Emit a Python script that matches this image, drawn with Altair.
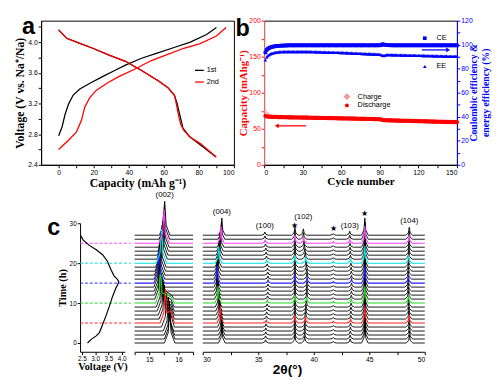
import altair as alt
import pandas as pd

SERIF = "Liberation Serif"
SANS = "Liberation Sans"

# ---------------- panel a : voltage profiles ----------------
A_1ST_CH_CAP = [0, 1.9, 3.7, 5.6, 8.3, 12.1, 17.6, 25.0, 32.0, 38.1, 47.3, 56.6, 65.9, 75.1, 84.4, 90.0]
A_1ST_CH_V = [2.78, 2.89, 3.06, 3.19, 3.31, 3.39, 3.46, 3.55, 3.63, 3.70, 3.79, 3.86, 3.93, 4.00, 4.10, 4.19]
A_1ST_DIS_CAP = [0, 4.6, 10.2, 19.5, 28.8, 38.1, 47.3, 56.6, 62.2, 66.0, 67.6, 69.1, 70.9, 74.6, 80.2, 89.4]
A_1ST_DIS_V = [4.16, 4.05, 4.00, 3.92, 3.83, 3.75, 3.63, 3.50, 3.41, 3.31, 3.20, 3.05, 2.88, 2.77, 2.67, 2.51]
A_2ND_CH_CAP = [0, 5.6, 10.2, 13.0, 14.9, 17.6, 21.4, 28.0, 34.3, 43.6, 52.9, 62.2, 71.4, 80.7, 90.0, 95.5]
A_2ND_CH_V = [2.60, 2.72, 2.83, 2.98, 3.15, 3.27, 3.37, 3.47, 3.55, 3.65, 3.76, 3.84, 3.92, 3.98, 4.08, 4.19]
A_2ND_DIS_CAP = [0, 4.6, 10.2, 19.5, 28.8, 38.1, 47.3, 56.6, 62.2, 66.2, 68.1, 69.6, 71.4, 75.1, 80.7, 90.0]
A_2ND_DIS_V = [4.16, 4.05, 4.00, 3.92, 3.83, 3.75, 3.63, 3.50, 3.41, 3.30, 3.08, 2.93, 2.85, 2.76, 2.68, 2.50]
A_LEGEND = ["1st", "2nd"]

# ---------------- panel b : cycling ----------------
CYCLES = list(range(1, 151))
DISCHARGE = [
    67.8, 67.2, 66.9, 66.7, 66.6, 66.5, 66.4, 66.4, 66.3, 66.3,
    66.2, 66.2, 66.1, 66.1, 66.0, 66.0, 66.0, 65.9, 65.9, 65.8,
    65.8, 65.8, 65.7, 65.7, 65.7, 65.6, 65.6, 65.6, 65.5, 65.5,
    65.5, 65.4, 65.4, 65.4, 65.3, 65.3, 65.3, 65.2, 65.2, 65.2,
    65.1, 65.1, 65.0, 65.0, 65.0, 64.9, 64.9, 64.9, 64.8, 64.8,
    64.8, 64.7, 64.7, 64.6, 64.6, 64.6, 64.5, 64.5, 64.5, 64.4,
    64.4, 64.3, 64.3, 64.3, 64.2, 64.2, 64.1, 64.1, 64.1, 64.0,
    64.0, 63.9, 63.9, 63.9, 63.8, 63.8, 63.7, 63.7, 63.7, 63.6,
    63.6, 63.5, 63.5, 63.5, 63.4, 63.4, 63.3, 63.3, 63.2, 63.2,
    62.8, 62.2, 61.9, 61.8, 61.8, 61.7, 61.7, 61.6, 61.6, 61.5,
    61.5, 61.4, 61.4, 61.3, 61.3, 61.2, 61.2, 61.1, 61.1, 61.0,
    61.0, 60.9, 60.9, 60.8, 60.8, 60.7, 60.7, 60.6, 60.6, 60.5,
    60.5, 60.4, 60.4, 60.3, 60.3, 60.2, 60.2, 60.1, 60.1, 60.0,
    60.0, 59.9, 59.9, 59.8, 59.8, 59.7, 59.7, 59.6, 59.6, 59.5,
    59.5, 59.4, 59.4, 59.4, 59.3, 59.3, 59.3, 59.2, 59.2, 59.2]
CHARGE = [
    73.5, 70.5, 69.0, 68.2, 67.6, 67.2, 66.9, 66.8, 66.6, 66.5,
    66.4, 66.4, 66.3, 66.3, 66.2, 66.2, 66.2, 66.1, 66.1, 66.0,
    66.0, 66.0, 65.9, 65.9, 65.9, 65.8, 65.8, 65.8, 65.7, 65.7,
    65.7, 65.6, 65.6, 65.6, 65.5, 65.5, 65.5, 65.4, 65.4, 65.4,
    65.3, 65.3, 65.2, 65.2, 65.2, 65.1, 65.1, 65.1, 65.0, 65.0,
    65.0, 64.9, 64.9, 64.8, 64.8, 64.8, 64.7, 64.7, 64.7, 64.6,
    64.6, 64.5, 64.5, 64.5, 64.4, 64.4, 64.3, 64.3, 64.3, 64.2,
    64.2, 64.1, 64.1, 64.1, 64.0, 64.0, 63.9, 63.9, 63.9, 63.8,
    63.8, 63.7, 63.7, 63.7, 63.6, 63.6, 63.5, 63.5, 63.4, 63.4,
    63.0, 62.4, 62.1, 62.0, 62.0, 61.9, 61.9, 61.8, 61.8, 61.7,
    61.7, 61.6, 61.6, 61.5, 61.5, 61.4, 61.4, 61.3, 61.3, 61.2,
    61.2, 61.1, 61.1, 61.0, 61.0, 60.9, 60.9, 60.8, 60.8, 60.7,
    60.7, 60.6, 60.6, 60.5, 60.5, 60.4, 60.4, 60.3, 60.3, 60.2,
    60.2, 60.1, 60.1, 60.0, 60.0, 59.9, 59.9, 59.8, 59.8, 59.7,
    59.7, 59.6, 59.6, 59.6, 59.5, 59.5, 59.5, 59.4, 59.4, 59.4]
CE = [
    93.5, 95.6, 96.7, 97.3, 97.8, 98.1, 98.4, 98.6, 98.8, 98.9,
    99.0, 99.1, 99.2, 99.2, 99.3, 99.3, 99.4, 99.4, 99.4, 99.5,
    99.5, 99.4, 99.5, 99.5, 99.4, 99.5, 99.5, 99.5, 99.4, 99.5,
    99.5, 99.5, 99.4, 99.5, 99.5, 99.5, 99.5, 99.4, 99.5, 99.5,
    99.5, 99.4, 99.5, 99.5, 99.5, 99.5, 99.4, 99.5, 99.5, 99.5,
    99.4, 99.5, 99.5, 99.5, 99.5, 99.4, 99.5, 99.5, 99.5, 99.5,
    99.4, 99.5, 99.5, 99.5, 99.5, 99.4, 99.5, 99.5, 99.5, 99.5,
    99.4, 99.5, 99.5, 99.5, 99.5, 99.4, 99.5, 99.5, 99.5, 99.5,
    99.4, 99.5, 99.5, 99.5, 99.5, 99.4, 99.5, 99.5, 99.5, 99.5,
    99.7, 100.4, 100.2, 99.9, 99.7, 99.6, 99.6, 99.5, 99.5, 99.5,
    99.5, 99.4, 99.5, 99.5, 99.5, 99.4, 99.5, 99.5, 99.5, 99.4,
    99.5, 99.5, 99.5, 99.4, 99.5, 99.5, 99.5, 99.4, 99.5, 99.5,
    99.5, 99.4, 99.5, 99.5, 99.5, 99.4, 99.5, 99.5, 99.5, 99.4,
    99.5, 99.5, 99.5, 99.4, 99.5, 99.5, 99.5, 99.4, 99.5, 99.5,
    99.5, 99.4, 99.5, 99.5, 99.5, 99.4, 99.5, 99.5, 99.5, 99.4]
EE = [
    87.3, 89.6, 90.9, 91.7, 92.3, 92.8, 93.1, 93.4, 93.6, 93.8,
    93.9, 94.0, 94.1, 94.1, 94.2, 94.2, 94.3, 94.3, 94.3, 94.3,
    94.3, 94.3, 94.3, 94.3, 94.3, 94.3, 94.3, 94.3, 94.3, 94.3,
    94.2, 94.2, 94.2, 94.2, 94.2, 94.1, 94.1, 94.1, 94.1, 94.0,
    94.0, 94.0, 93.9, 93.9, 93.9, 93.8, 93.8, 93.8, 93.7, 93.7,
    93.7, 93.6, 93.6, 93.6, 93.5, 93.5, 93.5, 93.5, 93.4, 93.4,
    93.4, 93.3, 93.3, 93.2, 93.2, 93.1, 93.1, 93.0, 93.0, 92.9,
    92.9, 92.8, 92.8, 92.7, 92.7, 92.6, 92.6, 92.5, 92.5, 92.4,
    92.4, 92.3, 92.3, 92.2, 92.2, 92.1, 92.1, 92.0, 92.0, 91.9,
    91.6, 91.0, 90.9, 91.2, 91.5, 91.6, 91.6, 91.6, 91.5, 91.5,
    91.5, 91.5, 91.4, 91.4, 91.4, 91.4, 91.3, 91.3, 91.3, 91.3,
    91.2, 91.2, 91.2, 91.2, 91.1, 91.1, 91.1, 91.1, 91.0, 91.0,
    91.0, 91.0, 90.9, 90.9, 90.9, 90.9, 90.8, 90.8, 90.8, 90.8,
    90.7, 90.7, 90.7, 90.7, 90.6, 90.6, 90.6, 90.6, 90.5, 90.5,
    90.5, 90.5, 90.4, 90.4, 90.4, 90.4, 90.3, 90.3, 90.3, 90.3]

# ---------------- panel c : in-situ XRD ----------------
VOLT_V = [2.71, 2.86, 3.04, 3.16, 3.28, 3.40, 3.53, 3.65, 3.77, 3.86, 3.89, 3.83,
          3.71, 3.59, 3.46, 3.28, 3.04, 2.79, 2.55, 2.46]
VOLT_T = [0.0, 0.98, 1.78, 2.61, 4.63, 6.66, 9.10, 11.54, 13.59, 14.80, 15.37, 16.02,
          16.83, 18.46, 20.49, 22.12, 23.34, 24.39, 25.78, 26.83]
MARK_T = [5, 10, 15, 20, 25]
XRD_T = list(range(28))
P002 = [15.70, 15.70, 15.69, 15.66, 15.60, 15.55, 15.52, 15.49, 15.45, 15.42, 15.39, 15.37,
        15.36, 15.35, 15.34, 15.34, 15.35, 15.36, 15.38, 15.40, 15.42, 15.44, 15.46, 15.48,
        15.50, 15.51, 15.52, 15.53]
SH002 = [0, 0, 0, 0, 3.2, 3.0, 2.8, 2.6, 2.3, 2.0, 1.6, 1.2, 0, 0, 0, 0, 0, 0, 0, 0,
         0, 0, 0, 0, 0, 0, 0, 0]
P004 = [31.72, 31.72, 31.71, 31.68, 31.63, 31.58, 31.54, 31.50, 31.46, 31.42, 31.38, 31.36,
        31.33, 31.31, 31.30, 31.29, 31.30, 31.33, 31.36, 31.40, 31.43, 31.47, 31.51, 31.55,
        31.60, 31.64, 31.68, 31.72]
P100 = [35.66, 35.66, 35.67, 35.68, 35.70, 35.72, 35.74, 35.76, 35.78, 35.80, 35.82, 35.84,
        35.85, 35.86, 35.87, 35.88, 35.87, 35.85, 35.83, 35.80, 35.77, 35.74, 35.71, 35.68,
        35.65, 35.62, 35.60, 35.59]
P102 = [39.18, 39.18, 39.19, 39.20, 39.22, 39.24, 39.26, 39.28, 39.30, 39.33, 39.35, 39.37,
        39.38, 39.39, 39.40, 39.40, 39.39, 39.37, 39.34, 39.31, 39.27, 39.23, 39.19, 39.15,
        39.12, 39.09, 39.07, 39.06]
P103 = [43.28, 43.28, 43.29, 43.30, 43.31, 43.32, 43.33, 43.34, 43.35, 43.36, 43.37, 43.38,
        43.39, 43.40, 43.40, 43.40, 43.39, 43.38, 43.36, 43.34, 43.32, 43.30, 43.28, 43.27,
        43.26, 43.25, 43.24, 43.24]
P104 = [48.62, 48.62, 48.61, 48.60, 48.59, 48.58, 48.57, 48.56, 48.55, 48.54, 48.53, 48.52,
        48.52, 48.51, 48.51, 48.51, 48.51, 48.52, 48.53, 48.54, 48.55, 48.56, 48.57, 48.58,
        48.58, 48.59, 48.59, 48.60]
STAR_POS = [38.30, 41.75, 44.60]
H002, SH002_POS = 8.5, 15.74
MAIN_PEAK_LABELS = ["(004)", "(100)", "★", "(102)", "★", "(103)", "★", "(104)"]
MAIN_PEAK_H = [4.3, 0.8, 2.0, 1.6, 0.4, 1.0, 4.3, 2.0]
XRD002_TICKS = [14.5, 15, 15.5, 16, 16.5]
XRD002_LABELED = ["15.0", "16.0"]
XRDMAIN_TICKS = [30, 32.5, 35, 37.5, 40, 42.5, 45, 47.5, 50]
XRDMAIN_LABELED = ["30.0", "35.0", "40.0", "45.0", "50.0"]

# ---------------- styles ----------------
MARK_COLORS = ["#ff2020", "#20d820", "#2020ff", "#00e0e0", "#ff40ff"]
LABEL_GAP = [0.3, 0.2, -0.8, 1.7, -0.2, 0.2, -0.3, 0.3]   # label lift above the top peak
RED, BLUE, PINK = "#ff0000", "#0000ff", "#ff8a8a"
one = pd.DataFrame({"k": [0]})


def ax(**kw):
    base = dict(labelFont=SANS, labelFontSize=7, labelColor="black", titleFont=SERIF,
                titleFontWeight="bold", titleColor="black", tickColor="black",
                domainColor="black", tickSize=3, grid=False, labelPadding=1,
                labelOverlap=False)
    base.update(kw)
    return alt.Axis(**base)


def txt(x, y, s, size=7.5, align="left", color="black", font=SANS, weight="normal",
        baseline="middle", angle=0):
    return alt.Chart(one).mark_text(text=s, align=align, baseline=baseline, fontSize=size,
                                    font=font, fontWeight=weight, color=color,
                                    angle=angle).encode(x=alt.value(x), y=alt.value(y))


def hline(x0, x1, y, color, w=1.3):
    return alt.Chart(one).mark_rule(color=color, strokeWidth=w).encode(
        x=alt.value(x0), x2=alt.value(x1), y=alt.value(y))


def pt(x, y, shape, color, size, filled=True):
    return alt.Chart(one).mark_point(shape=shape, filled=filled, color=color, size=size,
                                     opacity=1).encode(x=alt.value(x), y=alt.value(y))


# ================= panel a =================
rows = []
for name, seg, caps, vs in [("1st", "c", A_1ST_CH_CAP, A_1ST_CH_V),
                            ("1st", "d", A_1ST_DIS_CAP, A_1ST_DIS_V),
                            ("2nd", "c", A_2ND_CH_CAP, A_2ND_CH_V),
                            ("2nd", "d", A_2ND_DIS_CAP, A_2ND_DIS_V)]:
    for i, (c, v) in enumerate(zip(caps, vs)):
        rows.append({"cycle": name, "seg": name + seg, "i": i, "cap": c, "v": v})
dfa = pd.DataFrame(rows)

xa = alt.X("cap:Q", scale=alt.Scale(domain=[-10, 100], nice=False, zero=False),
           axis=ax(title="Capacity (mAh g⁻¹)", values=list(range(0, 101, 10)),
                   labelExpr="datum.value % 20 == 0 ? datum.label : ''",
                   titleFontSize=12, titlePadding=2))
ya = alt.Y("v:Q", scale=alt.Scale(domain=[2.4, 4.28], nice=False, zero=False),
           axis=ax(title="Voltage (V vs. Na⁺/Na)",
                   values=[2.4, 2.6, 2.8, 3.0, 3.2, 3.4, 3.6, 3.8, 4.0, 4.2], format=".1f",
                   labelExpr="indexof(['2.4','2.8','3.2','3.6','4.0'], datum.label) >= 0 ? datum.label : ''",
                   titleFontSize=12, titlePadding=1))
a_lines = alt.Chart(dfa).mark_line(strokeWidth=1.3).encode(
    x=xa, y=ya, detail="seg:N", order="i:Q",
    color=alt.Color("cycle:N", scale=alt.Scale(domain=A_LEGEND, range=["black", RED]),
                    legend=None))
panel_a = alt.layer(
    a_lines,
    hline(158, 167, 51, "black"), txt(170, 51, A_LEGEND[0]),
    hline(158, 167, 63, RED), txt(170, 63, A_LEGEND[1]),
    txt(-13, 14, "a", size=24, align="center", weight="bold", baseline="alphabetic"),
).properties(width=198, height=148, view=alt.ViewBackground(stroke="black", strokeWidth=1))

# ================= panel b =================
dfb = pd.DataFrame({"cycle": CYCLES, "charge": CHARGE, "discharge": DISCHARGE,
                    "ce": CE, "ee": EE})
xb = alt.X("cycle:Q", scale=alt.Scale(domain=[0, 150], nice=False, zero=False),
           axis=ax(title="Cycle number", values=list(range(0, 151, 15)),
                   labelExpr="datum.value % 30 == 0 ? datum.label : ''",
                   titleFontSize=11.5, titlePadding=0))
left_axis = ax(title="Capacity (mAhg⁻¹)", orient="left", values=list(range(0, 201, 25)),
               labelExpr="datum.value % 50 == 0 ? datum.label : ''", titleFontSize=11,
               titleColor=RED, labelColor=RED, tickColor=RED, domainColor="#ff7070",
               titlePadding=0)
right_axis = ax(title=None, orient="right", values=list(range(0, 121, 10)),
                labelExpr="datum.value % 20 == 0 ? datum.label : ''",
                labelColor=BLUE, tickColor=BLUE, domainColor=BLUE)
ysl = alt.Scale(domain=[0, 200], nice=False, zero=False)
ysr = alt.Scale(domain=[0, 120], nice=False, zero=False)
base_b = alt.Chart(dfb)
charge = base_b.mark_point(shape="diamond", filled=False, color=PINK, size=18,
                           strokeWidth=0.9).encode(x=xb, y=alt.Y("charge:Q", scale=ysl, axis=left_axis))
discharge = base_b.mark_point(shape="circle", filled=True, color=RED, size=18,
                              opacity=1).encode(x=xb, y=alt.Y("discharge:Q", scale=ysl, axis=left_axis))
ce = base_b.mark_point(shape="square", filled=True, color=BLUE, size=14,
                       opacity=1).encode(x=xb, y=alt.Y("ce:Q", scale=ysr, axis=right_axis))
ee = base_b.mark_point(shape="triangle-up", filled=True, color=BLUE, size=14,
                       opacity=1).encode(x=xb, y=alt.Y("ee:Q", scale=ysr, axis=right_axis))
panel_b = alt.layer(
    alt.layer(charge, discharge), alt.layer(ce, ee),
    pt(165, 18, "square", BLUE, 14), txt(177, 18, "CE"),
    pt(165, 47, "triangle-up", BLUE, 14), txt(177, 47, "EE"),
    pt(85, 78, "diamond", PINK, 16, filled=False), txt(96, 78, "Charge"),
    pt(85, 87, "circle", RED, 16), txt(96, 87, "Discharge"),
    hline(162, 188, 30, BLUE, 1.3), pt(189, 30, "triangle-right", BLUE, 22),
    hline(14, 43, 108, RED, 1.3), pt(13, 108, "triangle-left", RED, 22),
    txt(216, 74, "Coulombic efficiency &", size=10, align="center", color=BLUE,
        font=SERIF, weight="bold", angle=270),
    txt(228, 74, "energy efficiency (%)", size=10, align="center", color=BLUE,
        font=SERIF, weight="bold", angle=270),
    txt(-22, 16, "b", size=24, align="center", weight="bold", baseline="alphabetic"),
).resolve_scale(y="independent").properties(
    width=198, height=148, view=alt.ViewBackground(stroke="black", strokeWidth=1))

# ================= panel c =================
YDOM = [-2.2, 30]
dfv = pd.DataFrame({"t": VOLT_T, "v": VOLT_V, "i": list(range(len(VOLT_T)))})
dfm = pd.DataFrame({"t": MARK_T, "col": MARK_COLORS})
xv = alt.X("v:Q", scale=alt.Scale(domain=[2.43, 4.12], nice=False, zero=False),
           axis=ax(title="Voltage (V)", values=[2.5, 3.0, 3.5, 4.0], format=".1f",
                   titleFontSize=10.5, titlePadding=0, labelFontSize=6.5))
yv = alt.Y("t:Q", scale=alt.Scale(domain=YDOM, nice=False, zero=False),
           axis=ax(title="Time (h)", values=[0, 5, 10, 15, 20, 25, 30], titleFontSize=10.5,
                   titlePadding=2, labelFontSize=6.5))
volt = alt.layer(
    alt.Chart(dfm).mark_rule(strokeDash=[3, 2], strokeWidth=1).encode(
        y=alt.Y("t:Q", scale=alt.Scale(domain=YDOM, nice=False, zero=False)),
        x=alt.value(0), x2=alt.value(52), color=alt.Color("col:N", scale=None)),
    alt.Chart(dfv).mark_line(color="black", strokeWidth=1.2).encode(x=xv, y=yv, order="i:Q"),
    txt(-27, 12, "c", size=24, align="center", weight="bold", baseline="alphabetic"),
).properties(width=46, height=132)

# build XRD tables
r002, rmain = [], []
for t in XRD_T:
    col = MARK_COLORS[MARK_T.index(t)] if t in MARK_T else "black"
    p, h = P002[t], H002
    verts = [(14.5, 0), (p - 0.18, 0), (p - 0.05, 0.3 * h), (p, h), (p + 0.05, 0.3 * h)]
    if SH002[t] > 0:
        verts += [(SH002_POS, SH002[t]), (SH002_POS + 0.12, 0)]
    else:
        verts += [(p + 0.18, 0)]
    verts += [(16.5, 0)]
    for i, (x, inten) in enumerate(verts):
        r002.append({"t": t, "i": i, "x": x, "I": inten, "col": col})
    peaks = [P004[t], P100[t], STAR_POS[0], P102[t], STAR_POS[1], P103[t], STAR_POS[2], P104[t]]
    verts = [(30.0, 0)]
    for pp, hh in zip(peaks, MAIN_PEAK_H):
        verts += [(pp - 0.3, 0), (pp - 0.08, 0.3 * hh), (pp, hh), (pp + 0.08, 0.3 * hh),
                  (pp + 0.3, 0)]
    verts += [(50.0, 0)]
    for i, (x, inten) in enumerate(verts):
        rmain.append({"t": t, "i": i, "x": x, "I": inten, "col": col})
df002 = pd.DataFrame(r002)
dfmain = pd.DataFrame(rmain)

top_t = XRD_T[-1]
lab002 = pd.DataFrame({"x": [P002[top_t]], "y": [top_t + H002 + 0.3], "s": ["(002)"]})
labmain = pd.DataFrame({
    "x": [P004[top_t], P100[top_t], STAR_POS[0], P102[top_t], STAR_POS[1], P103[top_t],
          STAR_POS[2], P104[top_t]],
    "y": [top_t + hh + g for hh, g in zip(MAIN_PEAK_H, LABEL_GAP)],
    "s": MAIN_PEAK_LABELS})


def xrd_panel(df, labels, dom, tick_vals, labeled, width, extra=()):
    xs = alt.Scale(domain=dom, nice=False, zero=False)
    ys = alt.Scale(domain=YDOM, nice=False, zero=False)
    shown = "[" + ",".join(f"'{s}'" for s in labeled) + "]"
    xaxis = ax(title=None, values=tick_vals, format=".1f",
               labelExpr=f"indexof({shown}, datum.label) >= 0 ? format(datum.value, 'd') : ''")
    x = alt.X("x:Q", scale=xs, axis=xaxis)
    y = alt.Y("y:Q", scale=ys, axis=None)
    base = alt.Chart(df).transform_calculate(y="datum.t + datum.I")
    black = base.transform_filter("datum.col == 'black'").mark_line(
        strokeWidth=0.9, color="black").encode(x=x, y=y, detail="t:N", order="i:Q")
    colored = base.transform_filter("datum.col != 'black'").mark_line(strokeWidth=1.1).encode(
        x=x, y=y, detail="t:N", order="i:Q", color=alt.Color("col:N", scale=None))
    labs = alt.Chart(labels).mark_text(baseline="bottom", dy=-1, fontSize=8, font=SANS,
                                       color="black").encode(
        x=alt.X("x:Q", scale=xs, axis=xaxis), y=alt.Y("y:Q", scale=ys, axis=None), text="s:N")
    return alt.layer(black, colored, labs, *extra).properties(width=width, height=132)


x002 = xrd_panel(df002, lab002, [14.5, 16.5], XRD002_TICKS, XRD002_LABELED, 60)
xmain = xrd_panel(dfmain, labmain, [30, 50], XRDMAIN_TICKS, XRDMAIN_LABELED, 228,
                  extra=[txt(87, 151, "2θ(°)", size=14, align="center", weight="bold")])

spacer = alt.Chart(one).mark_point(opacity=0).encode(
    x=alt.value(0), y=alt.value(0)).properties(width=30, height=132)

top = alt.hconcat(panel_a, panel_b, spacing=31, bounds="flush")
bottom = alt.hconcat(spacer, volt, x002, xmain, spacing=10, bounds="flush")
chart = alt.vconcat(top, bottom, spacing=2).properties(
    padding={"left": 5, "top": 2, "right": 0, "bottom": 0}
).configure_view(strokeWidth=0)

chart.save("out.html", embed_options={"renderer": "svg", "actions": False})
